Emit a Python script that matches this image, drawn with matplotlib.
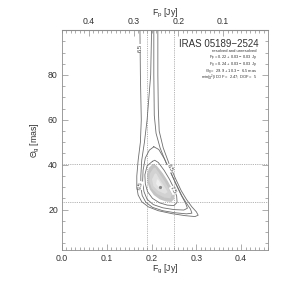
import numpy as np
import matplotlib
matplotlib.use('Agg')
import matplotlib.pyplot as plt

plt.rcParams['font.family'] = ['Liberation Sans', 'DejaVu Sans']
plt.rcParams['mathtext.fontset'] = 'custom'
plt.rcParams['mathtext.rm'] = 'Liberation Sans'
plt.rcParams['mathtext.it'] = 'Liberation Sans'

# total flux: top axis shows F_p = F_tot - F_g
f_tot = 0.46

# best fit and 1-sigma ranges
fg_best = 0.218
theta_best = 30.2
fg_err_lines = [0.19, 0.25]
theta_err_lines = [23.4, 40.2]

# contour lines (F_g [Jy], Theta_g [mas]), outer -> inner
c1_fg = [0.174, 0.175, 0.177, 0.175, 0.170, 0.167, 0.167, 0.170, 0.178, 0.193, 0.215, 0.245,
         0.275, 0.297, 0.304, 0.300, 0.290, 0.278, 0.266, 0.253, 0.239, 0.226, 0.217, 0.215,
         0.214, 0.214]
c1_th = [100, 80, 60, 50, 42, 35, 30, 26.5, 23.5, 21.2, 19.5, 18.2,
         17.3, 16.9, 17.5, 19.0, 21.2, 24.5, 28.5, 34.0, 40.5, 47.5, 55.0, 65.0,
         80.0, 100]
c2_fg = [0.200, 0.198, 0.190, 0.184, 0.178, 0.176, 0.176, 0.179, 0.187, 0.202, 0.225, 0.252,
         0.278, 0.290, 0.287, 0.279, 0.268, 0.257, 0.245, 0.232, 0.219, 0.210, 0.206, 0.205,
         0.205]
c2_th = [100, 80, 60, 50, 42, 35, 30, 26.3, 23.3, 21.0, 19.5, 18.6,
         18.1, 18.4, 20.2, 22.5, 26.0, 30.5, 35.5, 41.0, 47.5, 54.0, 62.0, 80.0,
         100]
c3_fg = [0.205, 0.195, 0.186, 0.181, 0.180, 0.183, 0.190, 0.204, 0.225, 0.250, 0.272, 0.280,
         0.276, 0.266, 0.254, 0.242, 0.229, 0.216, 0.205]
c3_th = [48.0, 46.5, 43.0, 37.5, 32.5, 28.0, 24.6, 22.2, 20.8, 20.0, 19.8, 20.6,
         22.8, 26.5, 31.5, 37.0, 42.5, 46.8, 48.0]
c4_fg = [0.202, 0.190, 0.185, 0.186, 0.191, 0.202, 0.218, 0.235, 0.250, 0.257, 0.256, 0.250,
         0.240, 0.228, 0.215, 0.207, 0.202]
c4_th = [41.5, 39.5, 35.5, 31.5, 28.0, 25.0, 23.0, 22.0, 21.8, 23.2, 26.0, 29.5,
         33.5, 37.5, 41.0, 42.0, 41.5]

# filled levels inside the 1-sigma region, outer -> inner
s1_fg = [0.202, 0.194, 0.190, 0.191, 0.196, 0.205, 0.218, 0.232, 0.244, 0.250, 0.250, 0.245,
         0.236, 0.225, 0.213, 0.206]
s1_th = [40.2, 38.6, 35.5, 32.0, 29.0, 26.5, 24.6, 23.6, 23.4, 24.6, 26.8, 29.5,
         32.8, 36.2, 39.2, 40.4]
s2_fg = [0.204, 0.196, 0.195, 0.200, 0.212, 0.228, 0.242, 0.245, 0.238, 0.228, 0.216, 0.208]
s2_th = [38.5, 36.0, 32.5, 29.5, 27.0, 25.4, 25.0, 26.5, 29.5, 33.0, 36.5, 38.8]
s3_fg = [0.207, 0.201, 0.204, 0.215, 0.230, 0.236, 0.228, 0.218, 0.210]
s3_th = [36.0, 33.5, 30.5, 28.3, 27.0, 27.8, 30.5, 33.5, 36.2]
s4_fg = [0.212, 0.210, 0.218, 0.226, 0.222, 0.215]
s4_th = [33.5, 31.5, 29.5, 29.0, 31.0, 33.3]
shade_colors = ['#c4c4c4', '#d2d2d2', '#e0e0e0', '#eeeeee']

axis_grey = '#8c8c8c'
line_grey = '#6e6e6e'
text_grey = '#333333'

fig = plt.figure(figsize=(2.99, 2.94), dpi=100)
ax = fig.add_axes([0.2074, 0.1497, 0.689, 0.748])

for fx, fy, col in zip([s1_fg, s2_fg, s3_fg, s4_fg], [s1_th, s2_th, s3_th, s4_th], shade_colors):
    ax.fill(fx, fy, color=col, lw=0, zorder=1)

for cx, cy in zip([c1_fg, c2_fg, c3_fg, c4_fg], [c1_th, c2_th, c3_th, c4_th]):
    ax.plot(cx, cy, color=line_grey, lw=0.6, zorder=2)

ax.plot([fg_best], [theta_best], 'o', color='#888888', ms=1.3, zorder=3)

for v in fg_err_lines:
    ax.axvline(v, color='#9a9a9a', lw=0.6, ls=(0, (1, 1.2)), zorder=1.5)
for v in theta_err_lines:
    ax.axhline(v, color='#9a9a9a', lw=0.6, ls=(0, (1, 1.2)), zorder=1.5)

# contour labels
lab = dict(fontsize=4.2, color='#444444', ha='center', va='center', zorder=4,
           bbox=dict(facecolor='white', edgecolor='none', pad=0.1))
ax.text(0.1745, 92, '6.5', rotation=90, **lab)
ax.text(0.2405, 38.4, '6.5', rotation=-62, **lab)
ax.text(0.248, 28.6, '7.5', rotation=-62, **lab)
ax.text(0.1756, 30.8, '6.5', rotation=75, **lab)

ax.set_xlim(0, 0.46)
ax.set_ylim(2, 100)
ax.set_xticks([0.0, 0.1, 0.2, 0.3, 0.4])
ax.set_xticklabels(['0.0', '0.1', '0.2', '0.3', '0.4'])
ax.set_xticks(np.arange(0, 0.461, 0.01), minor=True)
ax.set_yticks([20, 40, 60, 80])
ax.set_yticks(np.arange(5, 100, 5), minor=True)

for s in ax.spines.values():
    s.set_color(axis_grey)
    s.set_linewidth(0.6)
ax.tick_params(which='both', direction='in', color=axis_grey, width=0.5,
               labelsize=6.3, labelcolor=text_grey, right=True, top=False, pad=3)
ax.tick_params(which='major', length=4)
ax.tick_params(which='minor', length=2)

ax.set_xlabel(r'F$_\mathregular{g}$ [Jy]', fontsize=6.3, color=text_grey, labelpad=0)
ax.set_ylabel(r'$\mathregular{\Theta_g}$ [mas]', fontsize=6.3, color=text_grey, labelpad=4)

top = ax.secondary_xaxis('top', functions=(lambda f: f_tot - f, lambda p: f_tot - p))
top.set_xticks([0.4, 0.3, 0.2, 0.1])
top.set_xticklabels(['0.4', '0.3', '0.2', '0.1'])
top.set_xticks(np.arange(0.01, 0.461, 0.01), minor=True)
top.spines['top'].set_color(axis_grey)
top.tick_params(which='both', direction='in', color=axis_grey, width=0.5,
                labelsize=6.3, labelcolor=text_grey, pad=3)
top.tick_params(which='major', length=4)
top.tick_params(which='minor', length=2)
top.set_xlabel(r'F$_\mathregular{p}$ [Jy]', fontsize=6.3, color=text_grey, labelpad=1)

# legend text block
ax.text(0.955, 0.935, 'IRAS 05189\u22122524', transform=ax.transAxes, ha='right', va='center',
        fontsize=7, color=text_grey)
ax.text(0.945, 0.903, 'resolved and unresolved', transform=ax.transAxes, ha='right',
        va='center', fontsize=3.0, color=text_grey)
stats = ['F$_\\mathregular{p}$ = 0.22 + 0.03 \u2212 0.03 Jy',
         'F$_\\mathregular{g}$ = 0.24 + 0.03 \u2212 0.03 Jy',
         '$\\mathregular{\\Theta_g}$ =  29.9 + 10.3 \u2212  6.5 mas',
         'min($\\mathregular{\\chi^2}$)/DOF =  2.47; DOF =  5']
for i, s in enumerate(stats):
    ax.text(0.950, 0.874 - i * 0.031, s, transform=ax.transAxes,
            ha='right', va='center', fontsize=2.9, color=text_grey)

fig.savefig('out.png', dpi=100)
